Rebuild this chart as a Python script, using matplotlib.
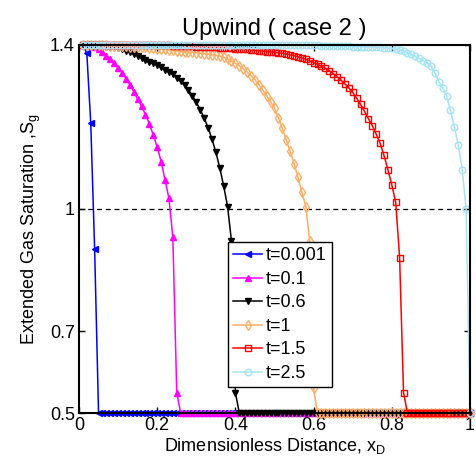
import numpy as np
import matplotlib
matplotlib.use('Agg')
import matplotlib.pyplot as plt

plt.rcParams['font.family'] = ['Liberation Sans', 'DejaVu Sans']

# grid of cell positions (dimensionless distance)
x_d = np.round(np.arange(1, 101) * 0.01, 2)

labels = ['t=0.001', 't=0.1', 't=0.6', 't=1', 't=1.5', 't=2.5']

sg_t0001 = [1.4, 1.38, 1.21, 0.90] + [0.5] * 96

sg_t01 = [1.4, 1.4, 1.398, 1.394, 1.389, 1.382, 1.374, 1.365, 1.355, 1.344,
          1.332, 1.318, 1.303, 1.286, 1.268, 1.25, 1.23, 1.207, 1.18, 1.15,
          1.115, 1.07, 1.025, 0.93, 0.55] + [0.5] * 75

sg_t06 = [1.4, 1.4, 1.4, 1.399, 1.398, 1.397, 1.396, 1.395, 1.394, 1.392,
          1.389, 1.386, 1.382, 1.378, 1.374, 1.369, 1.364, 1.359, 1.355, 1.35,
          1.345, 1.34, 1.334, 1.328, 1.32, 1.312, 1.302, 1.29, 1.276, 1.26,
          1.242, 1.222, 1.198, 1.17, 1.138, 1.10, 1.055, 1.005, 0.92, 0.55] + [0.5] * 60

sg_t1 = [1.4, 1.4, 1.4, 1.4, 1.399, 1.399, 1.399, 1.398, 1.398, 1.398,
         1.397, 1.397, 1.396, 1.396, 1.395, 1.395, 1.394, 1.393, 1.392, 1.391,
         1.39, 1.389, 1.388, 1.387, 1.386, 1.385, 1.384, 1.383, 1.382, 1.381,
         1.38, 1.379, 1.378, 1.376, 1.375, 1.373, 1.37, 1.366, 1.361, 1.355,
         1.349, 1.342, 1.334, 1.325, 1.315, 1.303, 1.29, 1.276, 1.261, 1.245,
         1.222, 1.196, 1.168, 1.14, 1.11, 1.077, 1.04, 1.005, 0.92, 0.56] + [0.5] * 40

sg_t15 = [1.4] * 20 + \
         [1.399, 1.399, 1.399, 1.398, 1.398, 1.398, 1.397, 1.397, 1.397, 1.396,
          1.396, 1.395, 1.395, 1.394, 1.394, 1.393, 1.393, 1.392, 1.392, 1.391,
          1.39, 1.39, 1.389, 1.388, 1.387, 1.386, 1.385, 1.384, 1.383, 1.382,
          1.381, 1.38, 1.378, 1.376, 1.374, 1.371, 1.368, 1.365, 1.361, 1.357,
          1.353, 1.348, 1.343, 1.337, 1.33, 1.322, 1.314, 1.305, 1.295, 1.284,
          1.27, 1.255, 1.238, 1.22, 1.203, 1.182, 1.16, 1.13, 1.095, 1.058,
          1.015, 0.88, 0.55] + [0.5] * 17

sg_t25 = [1.4] * 50 + \
         [1.4, 1.4, 1.4, 1.4, 1.4, 1.399, 1.399, 1.399, 1.399, 1.399,
          1.399, 1.398, 1.398, 1.398, 1.398, 1.397, 1.397, 1.397, 1.397, 1.396,
          1.396, 1.396, 1.395, 1.395, 1.395, 1.394, 1.394, 1.393, 1.393, 1.392,
          1.39, 1.388, 1.385, 1.381, 1.377, 1.372, 1.367, 1.362, 1.357, 1.349,
          1.332, 1.31, 1.295, 1.275, 1.24, 1.2, 1.155, 1.095, 1.0, 0.5]

series = [sg_t0001, sg_t01, sg_t06, sg_t1, sg_t15, sg_t25]
colors = ['#0000ff', '#ff00ff', '#000000', '#ffae66', '#ff0000', '#a6e3f7']
markers = ['<', '^', 'v', 'd', 's', 'o']
filled = [True, True, True, False, False, False]

fig = plt.figure(figsize=(4.76, 4.69), dpi=100)
ax = fig.add_axes([79 / 476, 1 - 413 / 469, 391 / 476, 368 / 469])

ax.plot([0, 1], [1, 1], 'k--', lw=0.9, dashes=(4, 3))

for y, c, m, f, lab in zip(series, colors, markers, filled, labels):
    ax.plot(x_d, y, color=c, marker=m, markersize=4.8, lw=1.1,
            markerfacecolor=c if f else 'none', markeredgecolor=c,
            markeredgewidth=1.0, label=lab, clip_on=False)

ax.set_xlim(0, 1)
ax.set_ylim(0.5, 1.4)
ax.set_xticks([0, 0.2, 0.4, 0.6, 0.8, 1])
ax.set_xticklabels(['0', '0.2', '0.4', '0.6', '0.8', '1'])
ax.set_yticks([0.5, 0.7, 1, 1.4])
ax.set_yticklabels(['0.5', '0.7', '1', '1.4'])
ax.tick_params(direction='in', length=4, width=1, labelsize=13,
               top=True, right=True, pad=3)
for s in ax.spines.values():
    s.set_linewidth(1.5)

ax.set_title('Upwind ( case 2 )', fontsize=17, pad=7)
ax.set_xlabel('Dimensionless Distance, x$_\\mathregular{D}$', fontsize=13, labelpad=1)
ax.set_ylabel('Extended Gas Saturation ,S$_\\mathregular{g}$', fontsize=13, labelpad=5)

leg = ax.legend(loc='upper left', bbox_to_anchor=(228 / 476, 1 - 242 / 469),
                bbox_transform=fig.transFigure, borderaxespad=0, fontsize=13,
                numpoints=1, handlelength=1.6, handletextpad=0.2,
                labelspacing=0.36, borderpad=0.3, fancybox=False,
                framealpha=1, edgecolor='black')
leg.get_frame().set_linewidth(1.0)

fig.savefig('out.png', dpi=100)
plt.close(fig)
